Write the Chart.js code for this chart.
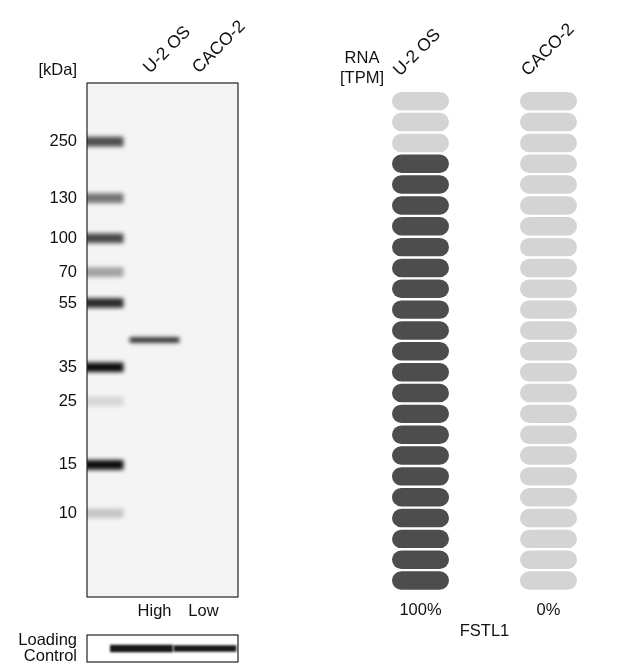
<!DOCTYPE html>
<html>
<head>
<meta charset="utf-8">
<script src="https://cdn.jsdelivr.net/npm/chart.js@4.4.0/dist/chart.umd.min.js"></script>
<style>
  body { margin: 0; background: #fff; width: 640px; height: 667px; position: relative; overflow: hidden; }
  canvas { position: absolute; }
</style>
</head>
<body>
<canvas id="blot" width="320" height="625" style="left:0px;top:0px"></canvas>
<canvas id="loading" width="320" height="42" style="left:0px;top:625px"></canvas>
<canvas id="rna" width="320" height="667" style="left:320px;top:0px"></canvas>
<script>
// western blot
const samples = ['U-2 OS', 'CACO-2'];
const expressionLevel = ['High', 'Low'];
const markerKda = [250, 130, 100, 70, 55, 35, 25, 15, 10];
const markerMigration = [11.4, 22.4, 30.2, 36.8, 42.8, 55.3, 61.9, 74.3, 83.7]; // % of gel length
const markerSignal = [0.72, 0.55, 0.75, 0.35, 0.88, 1.0, 0.12, 1.0, 0.2];
const bandMigration = [50.0, null];
const bandSignal = [0.95, 0];
const loadingSignal = [1.0, 0.8];

// RNA expression
const geneName = 'FSTL1';
const rnaTpm = [512.4, 0.0];
const rnaTicks = [100, 200, 300, 400, 500];
const rnaMax = 600;
const SEG = 25;

const FONT = '"Liberation Sans", Arial, sans-serif';
Chart.defaults.font.family = FONT;
Chart.defaults.font.size = 16.5;
Chart.defaults.color = '#111';

const shade = s => 'rgba(12,12,12,' + s + ')';

const blotLook = {
  id: 'blotLook',
  beforeDatasetsDraw(chart, args, opts) {
    const {ctx, chartArea: a} = chart;
    ctx.save();
    ctx.fillStyle = opts.bg;
    ctx.fillRect(a.left, a.top, a.width, a.height);
    ctx.filter = 'blur(' + opts.blur + 'px)';
  },
  afterDatasetsDraw(chart, args, opts) {
    const {ctx, chartArea: a} = chart;
    ctx.restore();
    ctx.save();
    ctx.strokeStyle = '#222';
    ctx.lineWidth = 1.2;
    ctx.strokeRect(a.left, a.top, a.width, a.height);
    ctx.restore();
  }
};

const notes = {
  id: 'notes',
  afterDraw(chart, args, opts) {
    const {ctx, chartArea: a} = chart;
    ctx.save();
    ctx.font = '16.5px ' + FONT;
    ctx.fillStyle = '#111';
    ctx.textAlign = opts.align;
    ctx.textBaseline = 'middle';
    opts.lines.forEach((t, i) => ctx.fillText(t, a.left + opts.dx, a.top + opts.dy + i * 20));
    ctx.restore();
  }
};

const noGrid = {display: false, drawTicks: false};
const laneMin = -0.378, laneMax = 2.704;

const blotSets = [{
  label: 'Marker',
  data: markerKda.map((k, i) => ({y: markerMigration[i], x: [laneMin - 1, 0.36]})),
  backgroundColor: markerSignal.map(shade),
  barThickness: 9
}, {
  label: geneName,
  data: samples.map((s, i) => ({y: bandMigration[i], x: [i + 0.5, i + 1.5]})).filter(d => d.y !== null),
  backgroundColor: bandSignal.filter((s, i) => bandMigration[i] !== null).map(shade),
  barThickness: 4.5
}];

new Chart(document.getElementById('blot'), {
  type: 'bar',
  data: {datasets: blotSets},
  plugins: [blotLook, notes],
  options: {
    indexAxis: 'y',
    grouped: false,
    responsive: false,
    animation: false,
    layout: {padding: {left: 0, right: 82, top: 0, bottom: 0}},
    plugins: {
      legend: {display: false},
      tooltip: {enabled: false},
      blotLook: {bg: '#f4f4f4', blur: 2.3},
      notes: {lines: ['[kDa]'], align: 'right', dx: -10, dy: -13}
    },
    scales: {
      y: {
        type: 'linear', reverse: true, min: 0, max: 100, offset: false,
        afterBuildTicks: s => { s.ticks = markerMigration.map(v => ({value: v})); },
        afterFit: s => { s.width = 87; },
        ticks: {callback: (v, i) => markerKda[i], padding: 10},
        grid: noGrid, border: {display: false}
      },
      x: {
        type: 'linear', position: 'top', min: laneMin, max: laneMax,
        afterBuildTicks: s => { s.ticks = samples.map((n, i) => ({value: i + 1})); },
        afterFit: s => { s.height = 83; },
        ticks: {callback: v => samples[v - 1], minRotation: 45, maxRotation: 45, autoSkip: false, labelOffset: 7, padding: 5, font: {size: 17.5}},
        grid: noGrid, border: {display: false}
      },
      x2: {
        type: 'linear', axis: 'x', position: 'bottom', min: laneMin, max: laneMax,
        afterBuildTicks: s => { s.ticks = expressionLevel.map((n, i) => ({value: i + 1})); },
        afterFit: s => { s.height = 28; },
        ticks: {callback: v => expressionLevel[v - 1], autoSkip: false, padding: 5},
        grid: noGrid, border: {display: false}
      }
    }
  }
});

new Chart(document.getElementById('loading'), {
  type: 'bar',
  data: {
    datasets: samples.map((s, i) => ({
      label: s,
      data: [{y: 0.5, x: [i + 0.51, i + 1.49]}],
      backgroundColor: shade(0.95),
      barThickness: 2 + 5 * loadingSignal[i]
    }))
  },
  plugins: [blotLook],
  options: {
    indexAxis: 'y',
    grouped: false,
    responsive: false,
    animation: false,
    layout: {padding: {left: 0, right: 82, top: 10, bottom: 5}},
    plugins: {
      legend: {display: false},
      tooltip: {enabled: false},
      blotLook: {bg: '#ffffff', blur: 1.2}
    },
    scales: {
      y: {
        type: 'linear', min: 0, max: 1, offset: false,
        afterBuildTicks: s => { s.ticks = [{value: 0.5}]; },
        afterFit: s => { s.width = 87; s.paddingTop = 0; s.paddingBottom = 0; },
        ticks: {callback: () => ['Loading', 'Control'], padding: 10, font: {lineHeight: 0.92}},
        grid: noGrid, border: {display: false}
      },
      x: {type: 'linear', display: false, min: 0.142, max: 2.52}
    }
  }
});

const rnaSets = [];
for (let k = 0; k < rnaMax / SEG; k++) {
  rnaSets.push({
    data: samples.map(() => [k * SEG, (k + 1) * SEG]),
    backgroundColor: rnaTpm.map(v => k < Math.ceil(v / SEG) ? '#4d4d4d' : '#d4d4d4'),
    borderColor: '#ffffff',
    borderWidth: 1.2,
    borderSkipped: false,
    borderRadius: 11,
    barThickness: 59.4,
    inflateAmount: 0
  });
}
const topTpm = Math.max(...rnaTpm);

new Chart(document.getElementById('rna'), {
  type: 'bar',
  data: {labels: samples, datasets: rnaSets},
  plugins: [notes],
  options: {
    grouped: false,
    responsive: false,
    animation: false,
    layout: {padding: {left: 36.5, right: 27.5, top: 0, bottom: 21.4}},
    plugins: {
      legend: {display: false},
      tooltip: {enabled: false},
      notes: {lines: ['RNA', '[TPM]'], align: 'center', dx: 5.5, dy: -32.8}
    },
    scales: {
      y: {
        type: 'linear', min: 0, max: rnaMax,
        afterBuildTicks: s => { s.ticks = rnaTicks.map(v => ({value: v})); },
        afterFit: s => { s.width = 0; },
        ticks: {padding: -24.5},
        grid: noGrid, border: {display: false}
      },
      x: {
        type: 'category', position: 'top',
        afterFit: s => { s.height = 90.8; },
        ticks: {minRotation: 45, maxRotation: 45, autoSkip: false, labelOffset: -9, padding: 10, font: {size: 17.5}},
        grid: noGrid, border: {display: false}
      },
      x2: {
        type: 'category', axis: 'x', position: 'bottom',
        labels: rnaTpm.map(v => Math.round(v / topTpm * 100) + '%'),
        afterFit: s => { s.height = 54.6; },
        ticks: {padding: 9.4},
        title: {display: true, text: geneName, padding: {top: 4, bottom: 4}, font: {size: 16.5}},
        grid: noGrid, border: {display: false}
      }
    }
  }
});
</script>
</body>
</html>
